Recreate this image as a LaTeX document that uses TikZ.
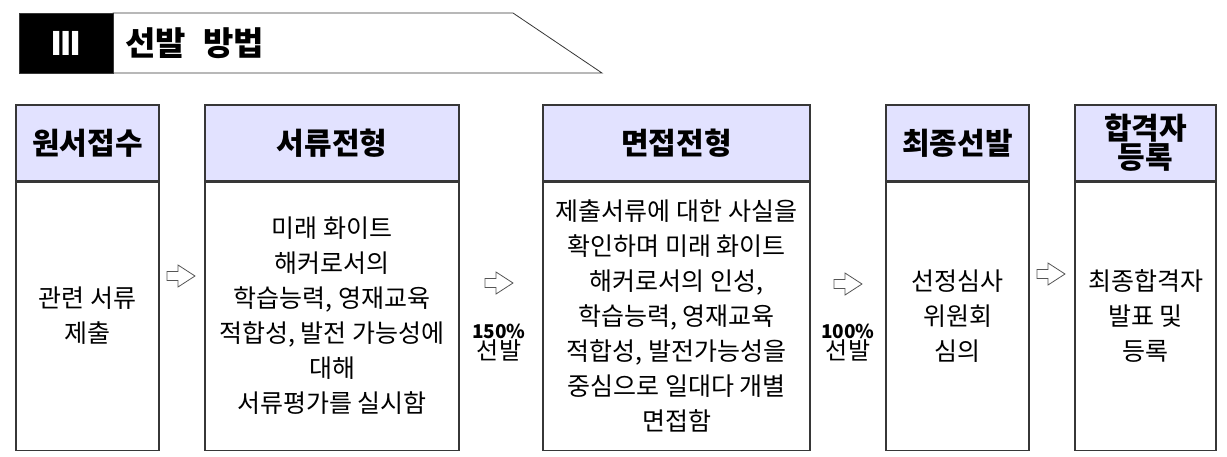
\documentclass[tikz,border=0pt]{standalone}
\usepackage{fontspec}
\setmainfont{Noto Sans CJK KR}
\newfontfamily\numfont{DejaVu Sans}
\usetikzlibrary{positioning}

\definecolor{headblue}{RGB}{226,226,255}
\definecolor{edge}{RGB}{55,55,55}

\tikzset{
  head/.style={draw=edge, line width=1.1pt, fill=headblue, minimum height=76pt,
    inner sep=0pt, align=center, font=\fontsize{30}{26}\selectfont\bfseries},
  body/.style={draw=edge, line width=1.1pt, fill=white, minimum height=268pt,
    inner sep=0pt, align=center, font=\fontsize{25}{35}\selectfont},
  hollow/.style={draw=edge!85, line width=0.8pt, fill=white, line join=miter},
  rate/.style={align=center, font=\fontsize{24}{20}\selectfont}
}

\begin{document}
\begin{tikzpicture}[x=1pt, y=-1pt]
  \useasboundingbox (0,0) rectangle (1227,456);
  % title banner
  \draw[edge, line width=0.8pt, fill=white] (113,13) -- (513,13) -- (602,73) -- (113,73) -- cycle;
  \node[fill=black, draw=edge, minimum width=94pt, minimum height=60pt, inner sep=0pt,
    text=white, font=\numfont\fontsize{33}{33}\selectfont\bfseries] (num) at (66,43) {Ⅲ};
  \node[anchor=west, inner sep=0pt, font=\fontsize{33}{33}\selectfont\bfseries] (ttl) at (125,43) {선발\hspace{0.3em} 방법};

  % steps
  \node[head, minimum width=143pt] (h1) at (87.5,143) {원서접수};
  \node[body, minimum width=143pt, below=0pt of h1] (b1) {관련 서류\\제출};

  \node[head, minimum width=254pt] (h2) at (332,143) {서류전형};
  \node[body, minimum width=254pt, below=0pt of h2] (b2) {미래 화이트\\해커로서의\\학습능력, 영재교육\\적합성, 발전 가능성에\\대해\\서류평가를 실시함};

  \node[head, minimum width=267pt] (h3) at (676.5,143) {면접전형};
  \node[body, minimum width=267pt, below=0pt of h3] (b3) {제출서류에 대한 사실을\\확인하며 미래 화이트\\해커로서의 인성,\\학습능력, 영재교육\\적합성, 발전가능성을\\중심으로 일대다 개별\\면접함};

  \node[head, minimum width=143pt] (h4) at (957.5,143) {최종선발};
  \node[body, minimum width=143pt, below=0pt of h4] (b4) {선정심사\\위원회\\심의};

  \node[head, minimum width=141pt] (h5) at (1145.5,143) {합격자\\등록};
  \node[body, minimum width=141pt, below=0pt of h5] (b5) {최종합격자\\발표 및\\등록};

  % arrows between steps
  \coordinate (a1) at (181,276);
  \coordinate (a2) at (499,283);
  \coordinate (a3) at (848,284);
  \coordinate (a4) at (1051,274);
  \foreach \p in {a1,a2,a3,a4}
    \draw[hollow] (\p) ++(-14,-4.5) -- ++(11,0) -- ++(0,-6.5) -- ++(17,11)
      -- ++(-17,11) -- ++(0,-6.5) -- ++(-11,0) -- cycle;
  \node[rate] (r2) at (499,343) {{\fontsize{19}{20}\selectfont\bfseries 150\%}\\선발};
  \node[rate] (r3) at (848,343) {{\fontsize{19}{20}\selectfont\bfseries 100\%}\\선발};
\end{tikzpicture}
\end{document}
